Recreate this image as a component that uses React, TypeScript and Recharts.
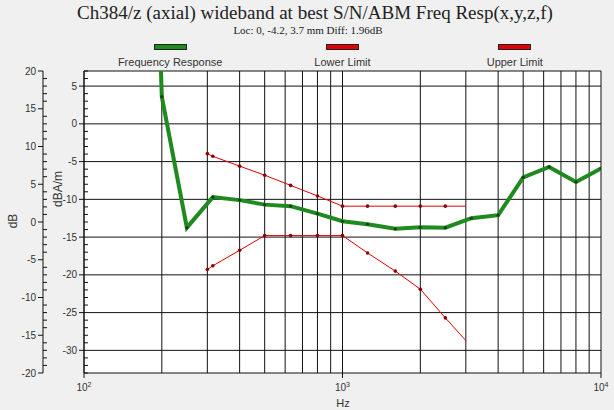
import React from 'react';
import {
  LineChart,
  Line,
  XAxis,
  YAxis,
  CartesianGrid,
  ReferenceLine,
  Legend,
} from 'recharts';

// frequency response (dBA/m)
const respFreq = [190, 200, 250, 315, 400, 500, 630, 800, 1000, 1250, 1600, 2000, 2500, 3150, 4000, 5000, 6300, 8000, 10000];
const respVal = [26, 3.6, -13.75, -9.7, -10.1, -10.7, -10.9, -11.9, -12.9, -13.3, -13.9, -13.7, -13.75, -12.5, -12.1, -7.1, -5.7, -7.7, -5.9];

const limitFreq = [300, 315, 400, 500, 630, 800, 1000, 1250, 1600, 2000, 2500, 3000];
const lowerVal = [-19.3, -18.8, -16.75, -14.8, -14.8, -14.8, -14.8, -17.1, -19.5, -21.9, -25.7, -28.7];
const upperVal = [-3.95, -4.3, -5.6, -6.8, -8.15, -9.55, -10.9, -10.9, -10.9, -10.9, -10.9, -10.9];

const freqTicks = [100, 200, 300, 400, 500, 600, 700, 800, 900, 1000, 2000, 3000, 4000, 5000, 6000, 7000, 8000, 9000, 10000];
const dbTicks = Array.from({ length: 41 }, (_, i) => 20 - i);
const dbamTicks = Array.from({ length: 41 }, (_, i) => 7 - i);
const dbamGrid = [5, 0, -5, -10, -15, -20, -25, -30];

const legendItems = [
  { name: 'Frequency Response', color: '#1f8a1f' },
  { name: 'Lower Limit', color: '#e00000' },
  { name: 'Upper Limit', color: '#e00000' },
];

const respData = respFreq.map((f, i) => ({ f, v: respVal[i] }));
const lowerData = limitFreq.map((f, i) => ({ f, v: lowerVal[i] }));
const upperData = limitFreq.map((f, i) => ({ f, v: upperVal[i] }));

const TXT = '#333';
const AX = '#111';
const SANS = 'Arial, "Liberation Sans", sans-serif';
const SERIF = '"Liberation Serif", "Times New Roman", serif';

const YTick = (props: any) => {
  const { x, y, payload } = props;
  const v = payload.value;
  const major = v % 5 === 0;
  return (
    <g>
      {major ? (
        <line x1={x - 5} x2={x} y1={y} y2={y} stroke={AX} />
      ) : (
        <line x1={x} x2={x + 4} y1={y} y2={y} stroke={AX} />
      )}
      {major && (
        <text x={x - 7} y={y} dy={3.5} textAnchor="end" fontSize={10} fill={TXT} fontFamily={SANS}>
          {v}
        </text>
      )}
    </g>
  );
};

const FreqTick = (props: any) => {
  const { x, y, payload } = props;
  const v = payload.value;
  const e = Math.round(Math.log10(v));
  if (Math.pow(10, e) !== v) return <g />;
  return (
    <g>
      <line x1={x} x2={x} y1={y} y2={y + 5} stroke={AX} />
      <text x={x} y={y + 18} textAnchor="middle" fontSize={10} fill={TXT} fontFamily={SANS}>
        10
        <tspan dy={-4} fontSize={7}>
          {e}
        </tspan>
      </text>
    </g>
  );
};

const dot = (fill: string, r: number) => (props: any) => {
  const { cx, cy, index, payload } = props;
  if (payload.f === 3000) return <g key={index} />;
  return <circle key={index} cx={cx} cy={cy} r={r} fill={fill} />;
};

const renderLegend = () => (
  <div style={{ display: 'flex', width: 517 }}>
    {legendItems.map((it) => (
      <div key={it.name} style={{ flex: 1, textAlign: 'center' }}>
        <div
          style={{
            width: 31,
            height: 4,
            margin: '0 auto',
            background: it.color,
            border: '1px solid #222',
          }}
        />
        <div style={{ fontSize: 11, color: TXT, fontFamily: SANS, marginTop: 6 }}>{it.name}</div>
      </div>
    ))}
  </div>
);

export default function App() {
  return (
    <div style={{ position: 'fixed', left: 0, top: 0, width: 614, height: 410, background: '#f0f0f0' }}>
      <div
        style={{
          position: 'absolute',
          left: 0,
          width: 630,
          top: 2,
          textAlign: 'center',
          fontFamily: SERIF,
          fontSize: 19,
          color: '#222',
        }}
      >
        Ch384/z (axial) wideband at best S/N/ABM Freq Resp(x,y,z,f)
      </div>
      <div
        style={{
          position: 'absolute',
          left: 0,
          width: 616,
          top: 24,
          textAlign: 'center',
          fontFamily: SERIF,
          fontSize: 11,
          color: '#222',
        }}
      >
        Loc: 0, -4.2, 3.7 mm Diff: 1.96dB
      </div>
      <LineChart width={614} height={410} margin={{ top: 71, right: 13, bottom: 7, left: 0 }}>
        <CartesianGrid
          xAxisId="x"
          yAxisId="a_dbam"
          horizontal={false}
          stroke={AX}
          strokeOpacity={1}
          fill="#ffffff"
          fillOpacity={1}
        />
        <XAxis
          xAxisId="x"
          dataKey="f"
          type="number"
          scale="log"
          domain={[100, 10000]}
          ticks={freqTicks}
          interval={0}
          allowDataOverflow
          height={30}
          tickSize={0}
          tickMargin={0}
          tick={<FreqTick />}
          stroke={AX}
        />
        <YAxis
          yAxisId="a_dbam"
          type="number"
          domain={[-33, 7]}
          ticks={dbamTicks}
          interval={0}
          allowDataOverflow
          width={41}
          tickSize={0}
          tickMargin={0}
          tick={<YTick />}
          stroke={AX}
        />
        <YAxis
          yAxisId="b_db"
          type="number"
          domain={[-20, 20]}
          ticks={dbTicks}
          interval={0}
          allowDataOverflow
          width={43}
          tickSize={0}
          tickMargin={0}
          tick={<YTick />}
          stroke={AX}
        />
        {dbamGrid.concat([7]).map((v) => (
          <ReferenceLine key={v} xAxisId="x" yAxisId="a_dbam" y={v} stroke={AX} strokeWidth={1} />
        ))}
        <Legend
          layout="horizontal"
          verticalAlign="middle"
          align="center"
          content={renderLegend}
          wrapperStyle={{ top: 44, left: 84, width: 517 }}
        />
        <Line
          xAxisId="x"
          yAxisId="a_dbam"
          data={respData}
          dataKey="v"
          name="Frequency Response"
          stroke="#1f8a1f"
          strokeWidth={4}
          dot={dot('#163f16', 1.6)}
          isAnimationActive={false}
        />
        <Line
          xAxisId="x"
          yAxisId="a_dbam"
          data={lowerData}
          dataKey="v"
          name="Lower Limit"
          stroke="#e00000"
          strokeWidth={1}
          dot={dot('#8b0000', 1.8)}
          isAnimationActive={false}
        />
        <Line
          xAxisId="x"
          yAxisId="a_dbam"
          data={upperData}
          dataKey="v"
          name="Upper Limit"
          stroke="#e00000"
          strokeWidth={1}
          dot={dot('#8b0000', 1.8)}
          isAnimationActive={false}
        />
      </LineChart>
      <div
        style={{
          position: 'absolute',
          left: 13,
          top: 221,
          transform: 'translate(-50%, -50%) rotate(-90deg)',
          fontFamily: SANS,
          fontSize: 12,
          color: TXT,
        }}
      >
        dB
      </div>
      <div
        style={{
          position: 'absolute',
          left: 58,
          top: 189,
          transform: 'translate(-50%, -50%) rotate(-90deg)',
          fontFamily: SANS,
          fontSize: 12,
          color: TXT,
        }}
      >
        dBA/m
      </div>
      <div
        style={{
          position: 'absolute',
          left: 343,
          top: 403,
          transform: 'translate(-50%, -50%)',
          fontFamily: SANS,
          fontSize: 11,
          color: TXT,
        }}
      >
        Hz
      </div>
    </div>
  );
}
